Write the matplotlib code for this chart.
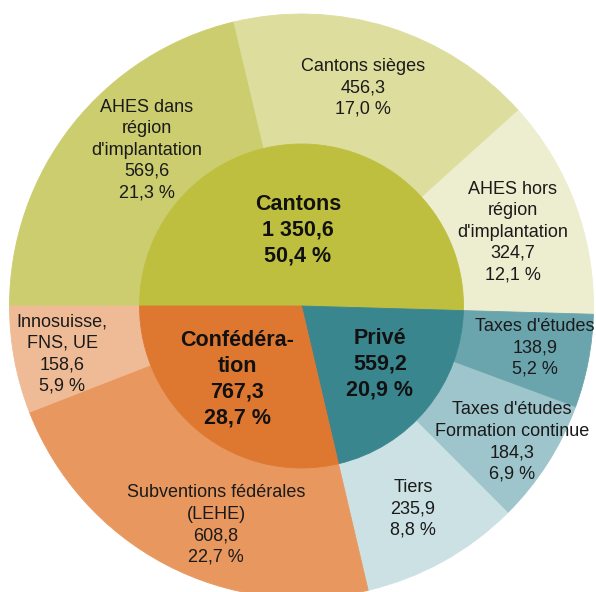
import matplotlib.pyplot as plt

plt.rcParams['font.family'] = ['Liberation Sans', 'DejaVu Sans']

# Groups (inner ring), clockwise from 9 o'clock
groups = ['Cantons', 'Privé', 'Confédéra-\ntion']
group_values = [1350.6, 559.2, 767.3]
group_pct = ['50,4 %', '20,9 %', '28,7 %']
group_colors = ['#BEBF3E', '#3A868E', '#DE7730']

# Sub-categories (outer ring), same order
sub_labels = ["AHES dans\nrégion\nd'implantation", 'Cantons sièges',
              "AHES hors\nrégion\nd'implantation",
              "Taxes d'études", "Taxes d'études\nFormation continue", 'Tiers',
              'Subventions fédérales\n(LEHE)', 'Innosuisse,\nFNS, UE']
sub_values = [569.6, 456.3, 324.7, 138.9, 184.3, 235.9, 608.8, 158.6]
sub_pct = ['21,3 %', '17,0 %', '12,1 %', '5,2 %', '6,9 %', '8,8 %', '22,7 %', '5,9 %']
sub_colors = ['#CBCD6E', '#DDDD9E', '#EDEDCF',
              '#6AA5AD', '#9DC5CB', '#CCE1E4',
              '#E8985F', '#EEBB96']

def fmt(v):
    s = f'{v:,.1f}'.replace(',', ' ').replace('.', ',')
    return s

# layout: pie centre / radius in pixels
W, H = 596, 592
CX, CY, R = 301.5, 306, 292
R_IN = 162

def px(x, y):
    return (x - CX) / R, (CY - y) / R

sub_label_px = [(147, 150), (363, 88), (513, 232), (535, 348), (512, 442),
                (413, 509), (216, 525), (62, 354)]
group_label_px = [(298, 230), (380, 364), (237, 379)]

fig = plt.figure(figsize=(W / 100, H / 100), dpi=100)
ax = fig.add_axes([0, 0, 1, 1])

wo, _ = ax.pie(sub_values, radius=1, startangle=180, counterclock=False,
               colors=sub_colors, wedgeprops=dict(width=1 - R_IN / R, linewidth=0))
wi, _ = ax.pie(group_values, radius=R_IN / R, startangle=180, counterclock=False,
               colors=group_colors, wedgeprops=dict(linewidth=0))
for w in list(wo) + list(wi):
    w.set_edgecolor(w.get_facecolor())
    w.set_linewidth(0.6)

for lab, v, p, xy in zip(sub_labels, sub_values, sub_pct, sub_label_px):
    ax.text(*px(*xy), f'{lab}\n{fmt(v)}\n{p}', ha='center', va='center',
            fontsize=13, color='#1A1A1A', linespacing=1.34)

for lab, v, p, xy in zip(groups, group_values, group_pct, group_label_px):
    ax.text(*px(*xy), f'{lab}\n{fmt(v)}\n{p}', ha='center', va='center',
            fontsize=15.5, fontweight='bold', color='#111111', linespacing=1.3)

ax.set_xlim(-CX / R, (W - CX) / R)
ax.set_ylim((CY - H) / R, CY / R)
ax.set_aspect('equal')
ax.axis('off')

fig.savefig('out.png', dpi=100)
